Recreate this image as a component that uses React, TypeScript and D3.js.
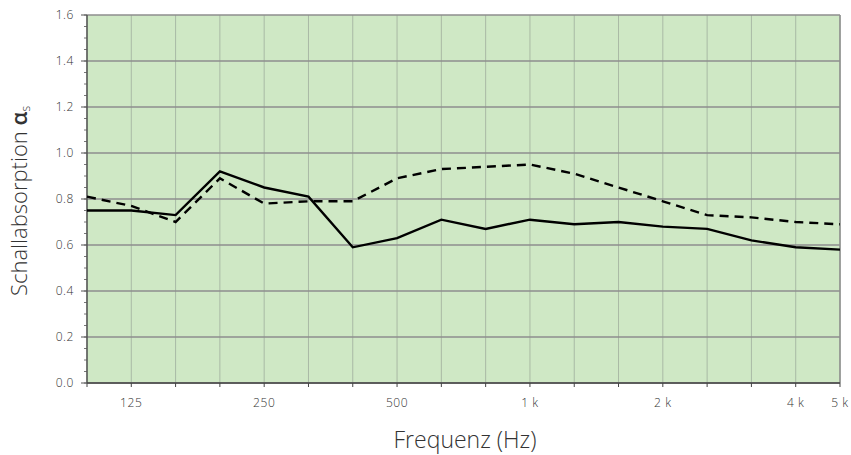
import React from 'react';
import * as d3 from 'd3';

// third-octave bands
const bands = ['100', '125', '160', '200', '250', '315', '400', '500', '630', '800', '1k', '1.25k', '1.6k', '2k', '2.5k', '3.15k', '4k', '5k'];
const labelled: Record<string, string> = { '125': '125', '250': '250', '500': '500', '1k': '1 k', '2k': '2 k', '4k': '4 k', '5k': '5 k' };
const solidValues = [0.75, 0.75, 0.73, 0.92, 0.85, 0.81, 0.59, 0.63, 0.71, 0.67, 0.71, 0.69, 0.70, 0.68, 0.67, 0.62, 0.59, 0.58];
const dashedValues = [0.81, 0.77, 0.70, 0.89, 0.78, 0.79, 0.79, 0.89, 0.93, 0.94, 0.95, 0.91, 0.85, 0.79, 0.73, 0.72, 0.70, 0.69];
const yTicks = [0, 0.2, 0.4, 0.6, 0.8, 1.0, 1.2, 1.4, 1.6];

export default function App() {
  const W = 851, H = 455;
  const left = 87, right = 840, top = 15, bottom = 383;
  const font = "'Open Sans', 'Noto Sans', sans-serif";

  const x = d3.scalePoint<string>().domain(bands).range([left, right]);
  const y = d3.scaleLinear().domain([0, 1.6]).range([bottom, top]);
  const minor = d3.range(0, 1.6001, 0.05);

  const line = d3.line<number>()
    .x((_, i) => x(bands[i])!)
    .y(d => y(d));

  return (
    <svg width={W} height={H} style={{ position: 'absolute', left: 0, top: 0 }}>
      <rect x={left} y={top} width={right - left} height={bottom - top} fill="#cfe8c5" />
      {/* vertical grid */}
      {bands.map(b => (
        <line key={'v' + b} x1={x(b)} x2={x(b)} y1={top} y2={bottom} stroke="#a9b9a5" strokeWidth={1} />
      ))}
      {/* horizontal grid */}
      {yTicks.map(t => (
        <line key={'h' + t} x1={left} x2={right} y1={y(t)} y2={y(t)} stroke="#8e8e8e" strokeWidth={1.3} />
      ))}
      <line x1={right} x2={right} y1={top} y2={bottom} stroke="#8e8e8e" strokeWidth={1.5} />
      {/* minor y ticks */}
      {minor.map(t => (
        <line key={'m' + t} x1={left - 3} x2={left} y1={y(t)} y2={y(t)} stroke="#777" strokeWidth={1} />
      ))}
      {yTicks.map(t => (
        <g key={'yt' + t}>
          <line x1={left - 6} x2={left} y1={y(t)} y2={y(t)} stroke="#555" strokeWidth={1} />
          <text x={left - 13} y={y(t)} dy="0.35em" textAnchor="end" fontFamily={font} fontWeight={300} fontSize={12} letterSpacing={0.6} fill="#333">
            {t.toFixed(1)}
          </text>
        </g>
      ))}
      {/* x ticks */}
      {bands.map(b => (
        <line key={'xt' + b} x1={x(b)} x2={x(b)} y1={bottom} y2={bottom + 4} stroke="#444" strokeWidth={1} />
      ))}
      {bands.filter(b => labelled[b]).map(b => (
        <text key={'xl' + b} x={x(b)} y={bottom + 24} textAnchor="middle" fontFamily={font} fontWeight={300} fontSize={12} letterSpacing={0.6} fill="#333">
          {labelled[b]}
        </text>
      ))}
      {/* axes */}
      <line x1={left} x2={left} y1={top} y2={bottom} stroke="#555" strokeWidth={1.5} />
      <line x1={left} x2={right} y1={bottom} y2={bottom} stroke="#444" strokeWidth={1.5} />

      <path d={line(dashedValues)!} fill="none" stroke="#000" strokeWidth={2.4} strokeDasharray="9,6" />
      <path d={line(solidValues)!} fill="none" stroke="#000" strokeWidth={2.4} />

      <text x={465} y={448} textAnchor="middle" fontFamily={font} fontWeight={300} fontSize={23} fill="#333">
        Frequenz (Hz)
      </text>
      <text transform={`translate(27,${(top + bottom) / 2 + 2}) rotate(-90)`} textAnchor="middle" fontFamily={font} fontWeight={300} fontSize={22} fill="#333">
        Schallabsorption <tspan fontWeight={600}>α</tspan><tspan fontSize={12} dy={3}>s</tspan>
      </text>
    </svg>
  );
}
